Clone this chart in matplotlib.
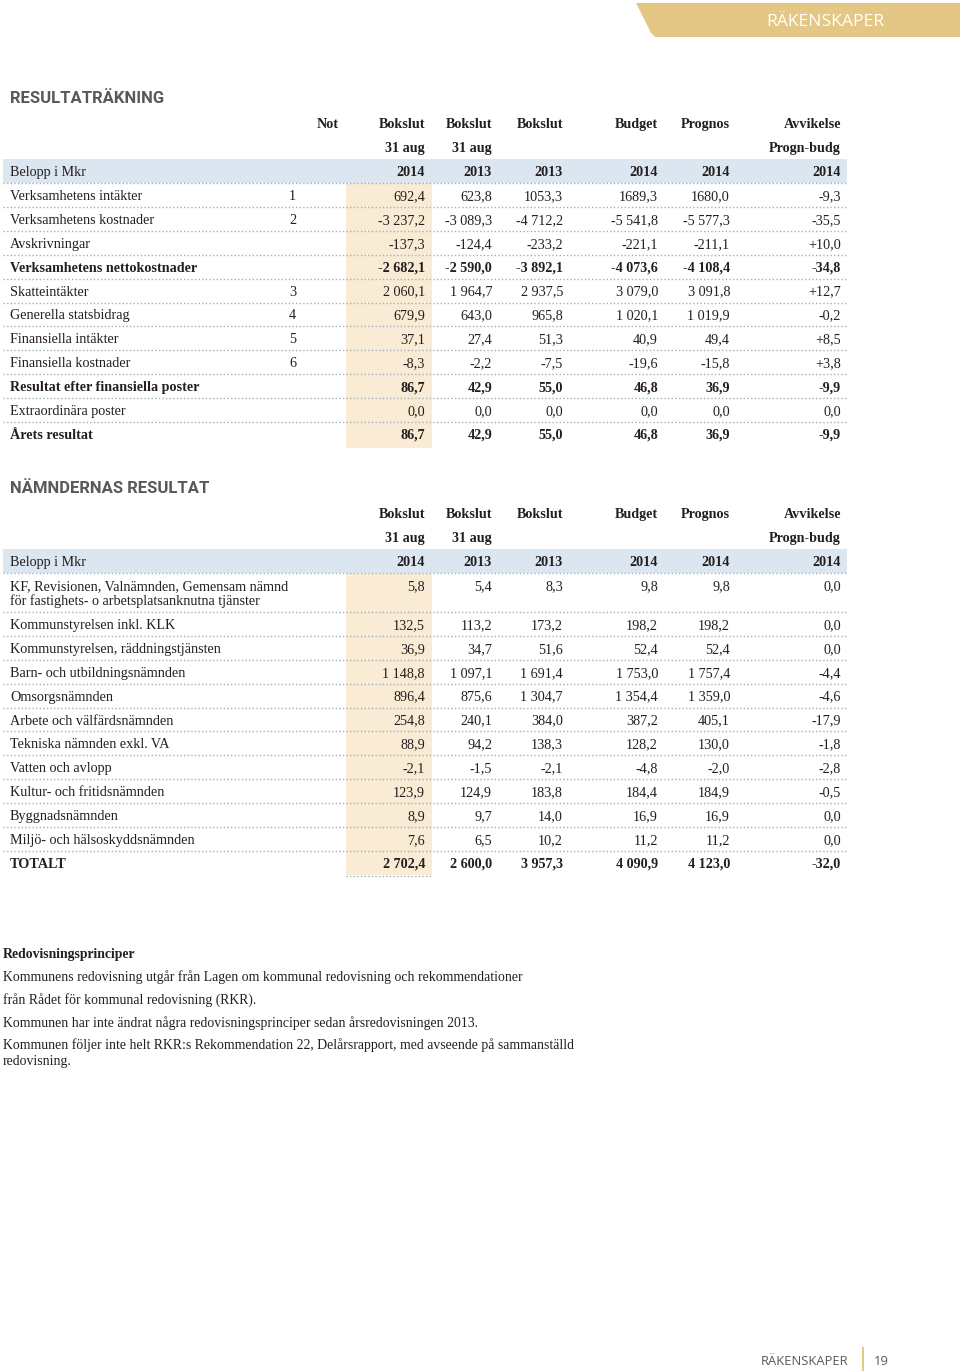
import matplotlib
matplotlib.use('Agg')
from matplotlib import pyplot as plt
from matplotlib.patches import Polygon, Rectangle

# --- data ---
col_head1 = ["Bokslut", "Bokslut", "Bokslut", "Budget", "Prognos", "Avvikelse"]
col_head2 = ["31 aug", "31 aug", "", "", "", "Progn-budg"]
col_years = ["2014", "2013", "2013", "2014", "2014", "2014"]

res_labels = ["Verksamhetens intäkter", "Verksamhetens kostnader", "Avskrivningar",
              "Verksamhetens nettokostnader", "Skatteintäkter", "Generella statsbidrag",
              "Finansiella intäkter", "Finansiella kostnader",
              "Resultat efter finansiella poster", "Extraordinära poster", "Årets resultat"]
res_not = ["1", "2", "", "", "3", "4", "5", "6", "", "", ""]
res_bold = [False, False, False, True, False, False, False, False, True, False, True]
res_values = [
    ["692,4", "623,8", "1053,3", "1689,3", "1680,0", "-9,3"],
    ["-3 237,2", "-3 089,3", "-4 712,2", "-5 541,8", "-5 577,3", "-35,5"],
    ["-137,3", "-124,4", "-233,2", "-221,1", "-211,1", "+10,0"],
    ["-2 682,1", "-2 590,0", "-3 892,1", "-4 073,6", "-4 108,4", "-34,8"],
    ["2 060,1", "1 964,7", "2 937,5", "3 079,0", "3 091,8", "+12,7"],
    ["679,9", "643,0", "965,8", "1 020,1", "1 019,9", "-0,2"],
    ["37,1", "27,4", "51,3", "40,9", "49,4", "+8,5"],
    ["-8,3", "-2,2", "-7,5", "-19,6", "-15,8", "+3,8"],
    ["86,7", "42,9", "55,0", "46,8", "36,9", "-9,9"],
    ["0,0", "0,0", "0,0", "0,0", "0,0", "0,0"],
    ["86,7", "42,9", "55,0", "46,8", "36,9", "-9,9"],
]

nmd_labels = ["KF, Revisionen, Valnämnden, Gemensam nämnd\nför fastighets- o arbetsplatsanknutna tjänster",
              "Kommunstyrelsen inkl. KLK", "Kommunstyrelsen, räddningstjänsten",
              "Barn- och utbildningsnämnden", "Omsorgsnämnden", "Arbete och välfärdsnämnden",
              "Tekniska nämnden exkl. VA", "Vatten och avlopp", "Kultur- och fritidsnämnden",
              "Byggnadsnämnden", "Miljö- och hälsoskyddsnämnden", "TOTALT"]
nmd_bold = [False] * 11 + [True]
nmd_values = [
    ["5,8", "5,4", "8,3", "9,8", "9,8", "0,0"],
    ["132,5", "113,2", "173,2", "198,2", "198,2", "0,0"],
    ["36,9", "34,7", "51,6", "52,4", "52,4", "0,0"],
    ["1 148,8", "1 097,1", "1 691,4", "1 753,0", "1 757,4", "-4,4"],
    ["896,4", "875,6", "1 304,7", "1 354,4", "1 359,0", "-4,6"],
    ["254,8", "240,1", "384,0", "387,2", "405,1", "-17,9"],
    ["88,9", "94,2", "138,3", "128,2", "130,0", "-1,8"],
    ["-2,1", "-1,5", "-2,1", "-4,8", "-2,0", "-2,8"],
    ["123,9", "124,9", "183,8", "184,4", "184,9", "-0,5"],
    ["8,9", "9,7", "14,0", "16,9", "16,9", "0,0"],
    ["7,6", "6,5", "10,2", "11,2", "11,2", "0,0"],
    ["2 702,4", "2 600,0", "3 957,3", "4 090,9", "4 123,0", "-32,0"],
]

notes_title = "Redovisningsprinciper"
notes_lines = [
    "Kommunens redovisning utgår från Lagen om kommunal redovisning och rekommendationer",
    "från Rådet för kommunal redovisning (RKR).",
    "Kommunen har inte ändrat några redovisningsprinciper sedan årsredovisningen 2013.",
    "Kommunen följer inte helt RKR:s Rekommendation 22, Delårsrapport, med avseende på sammanställd\nredovisning.",
]

# --- style ---
SERIF = ['Liberation Serif', 'DejaVu Serif']
HEAD = ['Liberation Sans Narrow', 'Roboto', 'DejaVu Sans']
SANS = ['Open Sans', 'DejaVu Sans']
TXT = '#231f20'
BAND = '#dce6f1'
HILITE = '#f9ebd4'
GOLD = '#e5c785'
DOTS = '#9fb2bc'
FS = 10.2
FS_NOTES = 9.9

col_x = [425, 492, 563, 658, 730, 841]
x_left, x_right = 3, 847
hl_x0, hl_x1 = 346, 432

fig = plt.figure(figsize=(9.6, 13.71), dpi=100)
ax = fig.add_axes([0, 0, 1, 1])
ax.set_xlim(0, 960)
ax.set_ylim(1371, 0)
ax.axis('off')


def dotted(y, x0=x_left, x1=x_right):
    ax.plot([x0, x1], [y, y], color=DOTS, lw=1.0, linestyle=(0, (1, 1.6)),
            solid_capstyle='butt', dash_capstyle='butt')


def txt(x, y, s, bold=False, ha='left', fs=FS, family=SERIF, color=TXT):
    # center_baseline keeps all baselines in a row level
    ax.text(x, y, s, ha=ha, va='center_baseline', fontsize=fs, family=family,
            fontweight='bold' if bold else 'normal', color=color)


def header(y1, with_not):
    if with_not:
        txt(328, y1, "Not", bold=True, ha='center')
    for x, h1, h2 in zip(col_x, col_head1, col_head2):
        txt(x, y1, h1, bold=True, ha='right')
        if h2:
            txt(x, y1 + 24, h2, bold=True, ha='right')
    band_top = y1 + 36
    ax.add_patch(Rectangle((x_left, band_top), x_right - x_left, 24, color=BAND, lw=0))
    txt(10, band_top + 12, "Belopp i Mkr")
    for x, yr in zip(col_x, col_years):
        txt(x, band_top + 12, yr, bold=True, ha='right')
    return band_top + 24


# top tab
ax.add_patch(Polygon([(636, 3), (960, 3), (960, 37), (655, 37), (651, 33)],
                     closed=True, color=GOLD, lw=0))
txt(825, 20, "RÄKENSKAPER", ha='center', fs=12.6, family=SANS, color='white')

# --- Resultaträkning ---
txt(10, 97, "RESULTATRÄKNING", bold=True, fs=12, family=HEAD, color='#58595b')
top = header(123, True)
step = 23.9
n = len(res_labels)
ax.add_patch(Rectangle((hl_x0, top), hl_x1 - hl_x0, n * step + 2, color=HILITE, lw=0))
for i, (lab, nt, b, vals) in enumerate(zip(res_labels, res_not, res_bold, res_values)):
    y = top + step * i + step / 2
    dotted(top + step * i)
    txt(10, y, lab, bold=b)
    if nt:
        txt(289, y, nt)
    for x, v in zip(col_x, vals):
        txt(x, y, v, bold=b, ha='right')

# --- Nämndernas resultat ---
txt(10, 487, "NÄMNDERNAS RESULTAT", bold=True, fs=12, family=HEAD, color='#58595b')
top = header(513, False)
heights = [39] + [step] * (len(nmd_labels) - 1)
ax.add_patch(Rectangle((hl_x0, top), hl_x1 - hl_x0, sum(heights), color=HILITE, lw=0))
y0 = top
for i, (lab, b, vals, h) in enumerate(zip(nmd_labels, nmd_bold, nmd_values, heights)):
    dotted(y0)
    if i == 0:
        txt(10, y0 + 12, lab.split("\n")[0])
        txt(10, y0 + 27, lab.split("\n")[1])
        yv = y0 + 12
    else:
        txt(10, y0 + h / 2, lab, bold=b)
        yv = y0 + h / 2
    for x, v in zip(col_x, vals):
        txt(x, yv, v, bold=b, ha='right')
    y0 += h
dotted(y0 + 1, hl_x0, hl_x1)

# --- notes ---
txt(3, 953, notes_title, bold=True, fs=FS_NOTES)
note_y = [976, 998, 1022, 1052]
for y, line in zip(note_y, notes_lines):
    if "\n" in line:
        a, c = line.split("\n")
        txt(3, y - 8, a, fs=FS_NOTES)
        txt(3, y + 8, c, fs=FS_NOTES)
    else:
        txt(3, y, line, fs=FS_NOTES)

# footer
txt(848, 1360, "RÄKENSKAPER", ha='right', fs=9.4, family=SANS, color='#58595b')
ax.plot([863, 863], [1348, 1370], color=GOLD, lw=1.5)
txt(874, 1360, "19", fs=9.4, family=SANS, color='#58595b')

fig.savefig('out.png', dpi=100, facecolor='white')
